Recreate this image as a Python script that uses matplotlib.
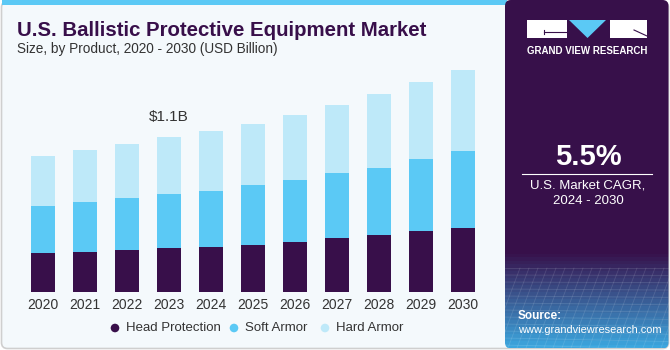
import numpy as np
import matplotlib
matplotlib.use('Agg')
import matplotlib.pyplot as plt
from matplotlib.patches import FancyBboxPatch, Rectangle, Polygon, Circle

plt.rcParams['font.family'] = ['Liberation Sans', 'DejaVu Sans']

# data (USD billion)
years = ['2020', '2021', '2022', '2023', '2024', '2025', '2026', '2027', '2028', '2029', '2030']
head_protection = [0.276, 0.285, 0.297, 0.312, 0.321, 0.335, 0.358, 0.387, 0.408, 0.434, 0.457]
soft_armor = [0.337, 0.352, 0.368, 0.387, 0.399, 0.427, 0.437, 0.458, 0.472, 0.508, 0.541]
hard_armor = [0.354, 0.368, 0.382, 0.401, 0.421, 0.430, 0.458, 0.479, 0.522, 0.545, 0.578]
series_names = ['Head Protection', 'Soft Armor', 'Hard Armor']
colors = ['#380F4A', '#5BC9F5', '#BEE9F9']
label_year = '2023'
label_text = '$1.1B'

W, H = 670, 350
fig = plt.figure(figsize=(W / 100, H / 100), dpi=100)
fig.patch.set_facecolor('white')

# background card, drawn in pixel coords (origin top-left)
bg = fig.add_axes([0, 0, 1, 1])
bg.set_xlim(0, W)
bg.set_ylim(H, 0)
bg.axis('off')
bg.add_patch(FancyBboxPatch((1.5, 1.5), W - 3, H - 3, boxstyle='round,pad=0,rounding_size=6',
                            facecolor='#F4F9FC', edgecolor='#CFCFCF', lw=1.2))
bg.add_patch(Rectangle((1.5, 0), 505, 5, facecolor='#5BC9F5', edgecolor='none'))

# right panel with gradient
grad = np.ones((100, 1, 3))
top_c = np.array([0x37, 0x10, 0x4A]) / 255
bot_c = np.array([0x3C, 0xA6, 0xDE]) / 255
t = np.clip((np.linspace(0, 350, 100) - 255) / 95, 0, 1)[:, None]
grad[:, 0, :] = top_c * (1 - t) + bot_c * t
im = bg.imshow(grad, extent=(505, 668.5, 348.5, 0), aspect='auto', zorder=2)
clip = FancyBboxPatch((505, 0), 163.5, 348.5, boxstyle='round,pad=0,rounding_size=6',
                      transform=bg.transData, facecolor='none', edgecolor='none')
bg.add_patch(clip)
im.set_clip_path(clip)
# faint mesh lines near the bottom of the panel
for yy in np.arange(268, 348, 7):
    bg.plot([505, 668], [yy, yy + (yy - 268) * 0.05], color='white', alpha=0.12, lw=0.6, zorder=3)
for xx in np.arange(500, 680, 9):
    bg.plot([xx + 20, xx - 10], [268, 348], color='white', alpha=0.12, lw=0.6, zorder=3)
bg.set_xlim(0, W)
bg.set_ylim(H, 0)

# logo
bg.add_patch(Rectangle((527, 20), 40, 18, facecolor='white', edgecolor='none', zorder=4))
bg.add_patch(Polygon([(569, 20), (606, 20), (587.5, 38)], facecolor='#5BC9F5', edgecolor='none', zorder=4))
bg.add_patch(Rectangle((610, 20), 37, 18, facecolor='white', edgecolor='none', zorder=4))
bg.plot([544, 567], [32, 32], color='#37104A', lw=0.8, zorder=5)
bg.plot([544, 544], [30, 34], color='#37104A', lw=0.8, zorder=5)
bg.plot([634, 647], [30, 36], color='#37104A', lw=0.8, zorder=5)
bg.text(587, 51, 'GRAND VIEW RESEARCH', color='white', fontsize=7, fontweight='bold',
        ha='center', va='center', zorder=5)

bg.text(588, 157, '5.5%', color='white', fontsize=21, fontweight='bold', ha='center', va='center', zorder=5)
bg.plot([522, 652], [173.5, 173.5], color='white', lw=0.8, zorder=5)
bg.text(588, 185, 'U.S. Market CAGR,', color='white', fontsize=9.5, ha='center', va='center', zorder=5)
bg.text(588, 201, '2024 - 2030', color='white', fontsize=9.5, ha='center', va='center', zorder=5)
bg.text(518, 316, 'Source:', color='white', fontsize=8.5, fontweight='bold', ha='left', va='center', zorder=5)
bg.text(518, 330, 'www.grandviewresearch.com', color='white', fontsize=7.9, ha='left', va='center', zorder=5)

# titles
bg.text(17, 30, 'U.S. Ballistic Protective Equipment Market', color='#380F4A', fontsize=14.7,
        fontweight='bold', ha='left', va='center')
bg.text(17, 49, 'Size, by Product, 2020 - 2030 (USD Billion)', color='#333333', fontsize=9.8,
        ha='left', va='center')

# bar chart
base_px = 292.3
px_per_b = 141.2
top_px = 66
ax = fig.add_axes([22 / W, (H - base_px) / H, 462 / W, (base_px - top_px) / H])
ax.set_facecolor('none')
x = np.arange(len(years))
bottom = np.zeros(len(years))
for vals, c, name in zip([head_protection, soft_armor, hard_armor], colors, series_names):
    ax.bar(x, vals, 0.57, bottom=bottom, color=c, label=name, edgecolor='none')
    bottom += np.array(vals)
ax.set_xlim(-0.5, len(years) - 0.5)
ax.set_ylim(0, (base_px - top_px) / px_per_b)
i = years.index(label_year)
ax.text(x[i], bottom[i] + 0.14, label_text, ha='center', va='center', fontsize=11, color='#333333')
ax.set_xticks(x)
ax.set_xticklabels(years, fontsize=10, color='#333333')
ax.tick_params(axis='x', length=0, pad=4)
ax.set_yticks([])
for s in ax.spines.values():
    s.set_visible(False)

# legend
leg_items = [(115, 'Head Protection'), (234, 'Soft Armor'), (325, 'Hard Armor')]
for (lx, name), c in zip(leg_items, colors):
    bg.add_patch(Circle((lx, 328), 4.3, facecolor=c, edgecolor='none'))
    bg.text(lx + 11, 328, name, fontsize=9.5, color='#333333', ha='left', va='center')

fig.savefig('out.png', dpi=100, facecolor=fig.get_facecolor())
